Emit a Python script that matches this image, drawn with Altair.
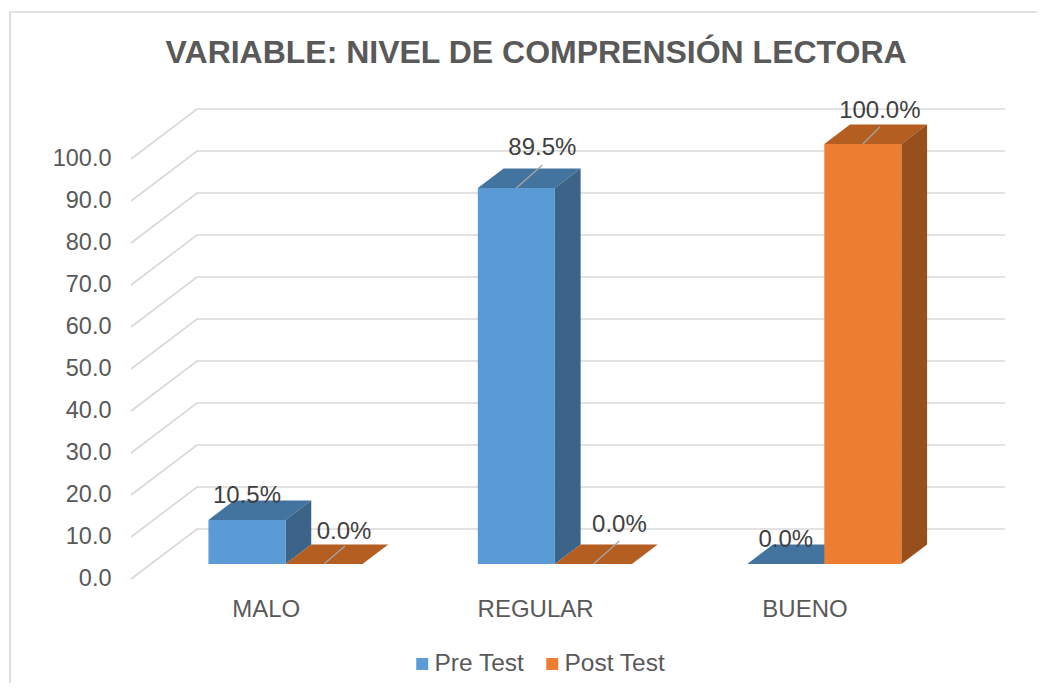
import altair as alt
import pandas as pd

# ---- values ----
categories = ["MALO", "REGULAR", "BUENO"]
pre_test = [10.5, 89.5, 0.0]
post_test = [0.0, 0.0, 100.0]
y_ticks = [0, 10, 20, 30, 40, 50, 60, 70, 80, 90, 100]
series_names = ["Pre Test", "Post Test"]
legend_colors = ["#5B9BD5", "#ED7D31"]
top_colors = ["#4374A0", "#B45E21"]
side_colors = ["#3B6488", "#974F1C"]

# ---- oblique projection of the 3D box (pixel sizes of one unit) ----
PX_PER_CAT = 269.4
PX_PER_VAL = 4.2
DEPTH_X = 66.0
DEPTH_Y = 50.0
BAR_W = 0.286          # bar width, in category units
Z_FRONT, Z_BACK = 0.3, 0.69  # depth slab of the bars
XMAX = 3 + DEPTH_X / PX_PER_CAT
YMAX = 112.0

AXIS_X = alt.Axis(values=[0.5, 1.5, 2.5], labelExpr="['MALO','REGULAR','BUENO'][floor(datum.value)]",
                  domain=False, ticks=False, grid=False, labelFontSize=24, labelColor="#595959",
                  labelFont="Liberation Sans", labelPadding=18.5, labelAngle=0, title=None)
AXIS_Y = alt.Axis(values=y_ticks, format=".1f", domain=False, ticks=False, grid=False, labelFontSize=23.5,
                  labelColor="#595959", labelFont="Liberation Sans", labelPadding=20, labelOffset=-0.5, title=None)


def px(cat, z=0.0):
    return cat + z * DEPTH_X / PX_PER_CAT


def py(val, z=0.0):
    return val + z * DEPTH_Y / PX_PER_VAL


def X(field="x"):
    return alt.X(f"{field}:Q", scale=alt.Scale(domain=[0, XMAX], nice=False, zero=False), axis=AXIS_X)


def Y(field="y"):
    return alt.Y(f"{field}:Q", scale=alt.Scale(domain=[0, YMAX], nice=False, zero=False), axis=AXIS_Y, stack=None)


# ---- grid: left wall + back wall ----
grid_rows = []
for t in y_ticks:
    grid_rows += [
        dict(v=t, i=0, x=px(0, 0), y=py(t, 0)),
        dict(v=t, i=1, x=px(0, 1), y=py(t, 1)),
        dict(v=t, i=2, x=px(3, 1), y=py(t, 1)),
    ]
grid = (
    alt.Chart(pd.DataFrame(grid_rows))
    .mark_line(color="#D9D9D9", strokeWidth=1.7, clip=False)
    .encode(x=X(), y=Y(), detail="v:N", order="i:Q")
)

# ---- bars ----
layers = [grid]
series_values = [pre_test, post_test]
label_rows = []
for s, (name, vals) in enumerate(zip(series_names, series_values)):
    top_rows, side_rows, front = [], [], []
    for c, v in enumerate(vals):
        a = c + 0.5 - BAR_W + s * BAR_W
        b = a + BAR_W
        for z in (Z_FRONT, Z_BACK):
            top_rows.append(dict(id=c, y=py(v, z), x=px(a, z), x2=px(b, z)))
            side_rows.append(dict(id=c, x=px(b, z), y=py(0, z), y2=py(v, z)))
        front.append(dict(x=px(a, Z_FRONT), x2=px(b, Z_FRONT), y=py(0, Z_FRONT), y2=py(v, Z_FRONT), series=name))
    layers.append(
        alt.Chart(pd.DataFrame(top_rows))
        .mark_area(orient="horizontal", color=top_colors[s])
        .encode(x=X(), x2="x2:Q", y=Y(), detail="id:N")
    )
    layers.append(
        alt.Chart(pd.DataFrame(side_rows))
        .mark_area(orient="vertical", color=side_colors[s])
        .encode(x=X(), y=Y(), y2="y2:Q", detail="id:N")
    )
    layers.append(
        alt.Chart(pd.DataFrame(front))
        .mark_rect()
        .encode(
            x=X(), x2="x2:Q", y=Y(), y2="y2:Q",
            color=alt.Color(
                "series:N",
                scale=alt.Scale(domain=series_names, range=legend_colors),
                legend=alt.Legend(
                    title=None, orient="none", direction="horizontal", legendX=279, legendY=543,
                    symbolType="square", symbolSize=144, symbolStrokeWidth=0, labelFontSize=24.5,
                    labelColor="#595959", labelFont="Liberation Sans", labelOffset=0, columnPadding=15,
                    padding=0, symbolOffset=0, values=series_names,
                ),
            ),
        )
    )

# ---- data labels and leader lines (nudges in pixels from the bar's top-front centre) ----
label_nudge = {
    (0, 0): (0, -25), (0, 1): (26, -41), (0, 2): (0, -25),
    (1, 0): (20, -33), (1, 1): (26, -40), (1, 2): (17, -34),
}
leader_nudge = {(0, 1): (26, -23), (1, 0): (21, -18), (1, 1): (26, -23), (1, 2): (17, -17)}
leader_rows = []
for s, vals in enumerate(series_values):
    for c, v in enumerate(vals):
        cx = px(c + 0.5 - BAR_W + (s + 0.5) * BAR_W, Z_FRONT)
        cy = py(v, Z_FRONT)
        dx, dy = label_nudge[(s, c)]
        label_rows.append(dict(x=cx + dx / PX_PER_CAT, y=cy - dy / PX_PER_VAL, t=f"{v:.1f}%"))
        if (s, c) in leader_nudge:
            lx, ly = leader_nudge[(s, c)]
            leader_rows.append(dict(x=cx, y=cy, x2=cx + lx / PX_PER_CAT, y2=cy - ly / PX_PER_VAL))

leaders = (
    alt.Chart(pd.DataFrame(leader_rows))
    .mark_rule(color="#A6A6A6", strokeWidth=1.3)
    .encode(x=X(), x2="x2:Q", y=Y(), y2="y2:Q")
)
labels = (
    alt.Chart(pd.DataFrame(label_rows))
    .mark_text(fontSize=24, color="#404040", font="Liberation Sans", baseline="middle", align="center", dy=1)
    .encode(x=X(), y=Y(), text="t:N")
)
layers += [leaders, labels]

# ---- outer frame: only the top and left edges fall inside the picture ----
one = pd.DataFrame({"a": [0]})
frame_top = (
    alt.Chart(one)
    .mark_rule(color="#D9D9D9", strokeWidth=1.7, clip=False)
    .encode(x=alt.value(-121), x2=alt.value(907), y=alt.value(-96.6))
)
frame_left = (
    alt.Chart(one)
    .mark_rule(color="#D9D9D9", strokeWidth=1.7, clip=False)
    .encode(x=alt.value(-121), y=alt.value(-96.6), y2=alt.value(582))
)

chart = (
    alt.layer(frame_top, frame_left, *layers)
    .properties(
        width=PX_PER_CAT * 3 + DEPTH_X,
        height=PX_PER_VAL * YMAX,
        autosize="none",
        padding={"left": 123, "top": 100.6, "right": 32, "bottom": 104},
        background="#FFFFFF",
        title=alt.TitleParams(
            "VARIABLE: NIVEL DE COMPRENSIÓN LECTORA",
            font="Liberation Sans", fontSize=32, fontWeight="bold", color="#595959",
            anchor="middle", frame="group", dx=-32, offset=-59,
        ),
    )
    .configure_view(stroke=None)
)
chart.save("out.html", embed_options={"renderer": "svg", "actions": False})
